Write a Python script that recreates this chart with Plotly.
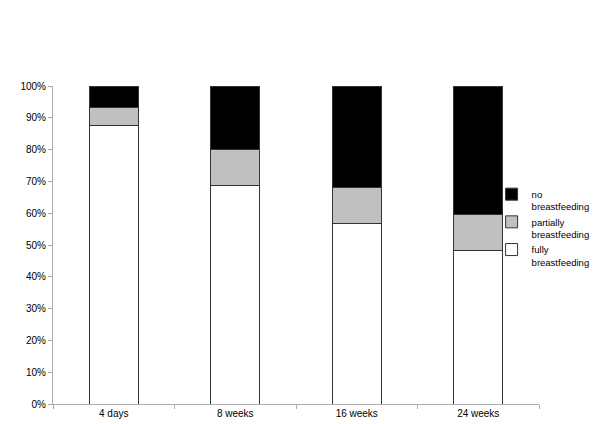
import plotly.graph_objects as go

categories = ["4 days", "8 weeks", "16 weeks", "24 weeks"]
fully = [87.7, 68.8, 56.8, 48.4]
partially = [5.5, 11.1, 11.3, 11.3]
none = [6.8, 20.1, 31.9, 40.3]

series = [
    ("fully<br>breastfeeding", fully, "#ffffff"),
    ("partially<br>breastfeeding", partially, "#c0c0c0"),
    ("no<br>breastfeeding", none, "#000000"),
]

fig = go.Figure()
for name, values, color in series:
    fig.add_trace(
        go.Bar(
            x=categories,
            y=values,
            name=name,
            marker=dict(color=color, line=dict(color="#333333", width=1)),
            width=0.4,
        )
    )

# the page puts the figure ~8px in from the top-left, margins compensate
fig.update_layout(
    barmode="stack",
    width=600,
    height=424,
    margin=dict(l=45, r=69, t=78, b=28, autoexpand=False),
    plot_bgcolor="white",
    paper_bgcolor="white",
    font=dict(family="Liberation Sans, Arial, sans-serif", color="#000000", size=10),
    legend=dict(
        xref="container",
        yref="container",
        x=0.806,
        y=0.48,
        xanchor="left",
        yanchor="middle",
        traceorder="reversed",
        font=dict(size=9.5),
        bgcolor="rgba(0,0,0,0)",
        itemwidth=30,
        tracegroupgap=0,
        valign="top",
    ),
    showlegend=True,
)
fig.update_xaxes(
    showline=True,
    linecolor="#aaaaaa",
    ticks="outside",
    tickson="boundaries",
    tickcolor="#aaaaaa",
    ticklen=4,
    showgrid=False,
    automargin=False,
)
fig.update_yaxes(
    range=[0, 100],
    tickvals=[0, 10, 20, 30, 40, 50, 60, 70, 80, 90, 100],
    ticktext=[f"{v}%" for v in range(0, 101, 10)],
    showline=True,
    linecolor="#aaaaaa",
    ticks="outside",
    tickcolor="#aaaaaa",
    ticklen=4,
    showgrid=False,
    zeroline=False,
    automargin=False,
)

fig.write_html("out.html")
